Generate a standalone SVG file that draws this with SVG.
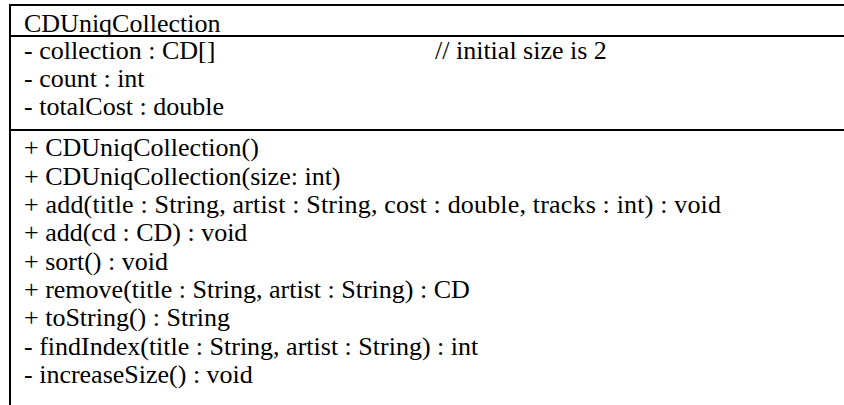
<svg xmlns="http://www.w3.org/2000/svg" width="844" height="405" viewBox="0 0 844 405">
<defs>
<style>
.ln{stroke:#000;stroke-width:2;fill:none}
</style>
</defs>
<rect width="844" height="405" fill="#fff"/>
<g id="CDUniqCollection">
<path class="ln" d="M10,5 H844 M10,36 H844 M10,130 H844 M10,4 V405" stroke="#000" stroke-width="2" fill="none"/>
<text x="24" y="32" font-family="Liberation Serif" font-size="26">CDUniqCollection</text>
<text x="24" y="59" font-family="Liberation Serif" font-size="26">- collection : CD[]</text>
<text x="435" y="59" font-family="Liberation Serif" font-size="26">// initial size is 2</text>
<text x="24" y="87" font-family="Liberation Serif" font-size="26">- count : int</text>
<text x="24" y="115" font-family="Liberation Serif" font-size="26">- totalCost : double</text>
<text x="24" y="156" font-family="Liberation Serif" font-size="26">+ CDUniqCollection()</text>
<text x="24" y="184.5" font-family="Liberation Serif" font-size="26">+ CDUniqCollection(size: int)</text>
<text x="24" y="213" font-family="Liberation Serif" font-size="26" textLength="697" lengthAdjust="spacing">+ add(title : String, artist : String, cost : double, tracks : int) : void</text>
<text x="24" y="241" font-family="Liberation Serif" font-size="26">+ add(cd : CD) : void</text>
<text x="24" y="269.5" font-family="Liberation Serif" font-size="26">+ sort() : void</text>
<text x="24" y="298" font-family="Liberation Serif" font-size="26">+ remove(title : String, artist : String) : CD</text>
<text x="24" y="326" font-family="Liberation Serif" font-size="26">+ toString() : String</text>
<text x="24" y="354.5" font-family="Liberation Serif" font-size="26">- findIndex(title : String, artist : String) : int</text>
<text x="24" y="383" font-family="Liberation Serif" font-size="26">- increaseSize() : void</text>
</g>
<g id="connectors"/>
</svg>
